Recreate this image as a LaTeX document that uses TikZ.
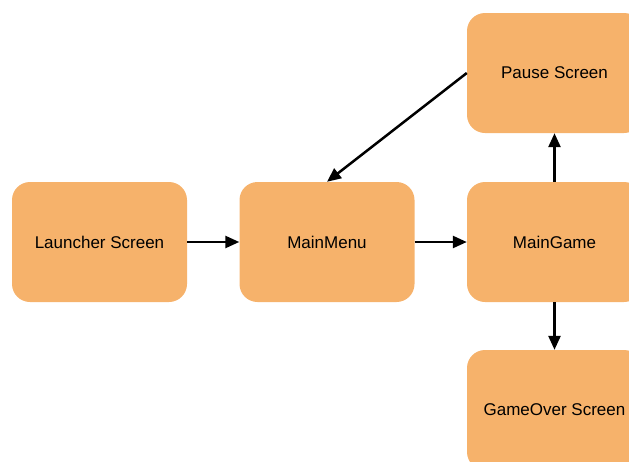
\documentclass[tikz,border=0pt]{standalone}
\usepackage{fontspec}
\setmainfont{Liberation Sans}
\usetikzlibrary{arrows.meta}
\begin{document}
\begin{tikzpicture}[x=1pt, y=-1pt, >={Triangle[length=14pt, width=12pt]},
  pantalla/.style={fill=naranja, rounded corners=18pt, minimum width=175pt,
    minimum height=120pt, inner sep=0pt, font=\fontsize{17}{20}\selectfont},
  flecha/.style={->, line width=2.5pt, draw=black}]
  \definecolor{naranja}{HTML}{F6B26B}
  \clip (0, 0) rectangle (629, 461);
  \node[pantalla] (launcher) at (99.5, 242) {Launcher Screen};
  \node[pantalla] (menu) at (327, 242) {MainMenu};
  \node[pantalla] (game) at (554.5, 242) {MainGame};
  \node[pantalla] (pause) at (554.5, 73) {Pause Screen};
  \node[pantalla] (over) at (554.5, 410) {GameOver Screen};
  \draw[flecha] (launcher) -- (menu);
  \draw[flecha] (menu) -- (game);
  \draw[flecha] (game) -- (pause); % pausa
  \draw[flecha] (game) -- (over); % fin de partida
  \draw[flecha] (pause.west) -- (menu.north); % volver al menu
\end{tikzpicture}
\end{document}
